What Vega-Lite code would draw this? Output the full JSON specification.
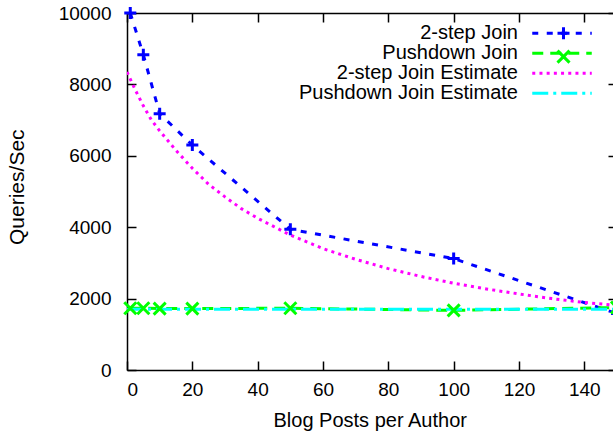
{
  "$schema": "https://vega.github.io/schema/vega-lite/v6.json",
  "width": 490,
  "height": 357,
  "autosize": {"type": "none"},
  "padding": {"left": 127, "top": 13, "right": 0, "bottom": 66},
  "background": "white",
  "config": {
    "view": {"stroke": null},
    "font": "Liberation Sans",
    "axis": {
      "domainColor": "black", "domainWidth": 1.5,
      "tickColor": "black", "tickWidth": 1.5,
      "labelFont": "Liberation Sans", "labelFontSize": 19, "labelColor": "black",
      "titleFont": "Liberation Sans", "titleFontSize": 20, "titleFontWeight": "normal", "titleColor": "black",
      "grid": false
    }
  },
  "datasets": {
    "lines": [
      {"series": "2-step Join", "x": 1, "y": 10000},
      {"series": "2-step Join", "x": 5, "y": 8830},
      {"series": "2-step Join", "x": 10, "y": 7180},
      {"series": "2-step Join", "x": 20, "y": 6300},
      {"series": "2-step Join", "x": 50, "y": 3940},
      {"series": "2-step Join", "x": 100, "y": 3120},
      {"series": "2-step Join", "x": 150, "y": 1580},
      {"series": "Pushdown Join", "x": 1, "y": 1730},
      {"series": "Pushdown Join", "x": 5, "y": 1730},
      {"series": "Pushdown Join", "x": 10, "y": 1720},
      {"series": "Pushdown Join", "x": 20, "y": 1720},
      {"series": "Pushdown Join", "x": 50, "y": 1730},
      {"series": "Pushdown Join", "x": 100, "y": 1670},
      {"series": "Pushdown Join", "x": 150, "y": 1750},
      {"series": "2-step Join Estimate", "x": 0, "y": 8350},
      {"series": "2-step Join Estimate", "x": 1, "y": 8150},
      {"series": "2-step Join Estimate", "x": 2.5, "y": 7850},
      {"series": "2-step Join Estimate", "x": 5, "y": 7400},
      {"series": "2-step Join Estimate", "x": 7.5, "y": 7000},
      {"series": "2-step Join Estimate", "x": 10, "y": 6700},
      {"series": "2-step Join Estimate", "x": 15, "y": 6150},
      {"series": "2-step Join Estimate", "x": 20, "y": 5650},
      {"series": "2-step Join Estimate", "x": 25, "y": 5200},
      {"series": "2-step Join Estimate", "x": 30, "y": 4850},
      {"series": "2-step Join Estimate", "x": 35, "y": 4520},
      {"series": "2-step Join Estimate", "x": 40, "y": 4250},
      {"series": "2-step Join Estimate", "x": 50, "y": 3780},
      {"series": "2-step Join Estimate", "x": 60, "y": 3400},
      {"series": "2-step Join Estimate", "x": 70, "y": 3100},
      {"series": "2-step Join Estimate", "x": 80, "y": 2840},
      {"series": "2-step Join Estimate", "x": 90, "y": 2620},
      {"series": "2-step Join Estimate", "x": 100, "y": 2430},
      {"series": "2-step Join Estimate", "x": 110, "y": 2270},
      {"series": "2-step Join Estimate", "x": 120, "y": 2130},
      {"series": "2-step Join Estimate", "x": 130, "y": 2000},
      {"series": "2-step Join Estimate", "x": 140, "y": 1890},
      {"series": "2-step Join Estimate", "x": 150, "y": 1810},
      {"series": "Pushdown Join Estimate", "x": 0, "y": 1700},
      {"series": "Pushdown Join Estimate", "x": 150, "y": 1700}
    ],
    "points": [
      {"series": "2-step Join", "x": 1, "y": 10000},
      {"series": "2-step Join", "x": 5, "y": 8830},
      {"series": "2-step Join", "x": 10, "y": 7180},
      {"series": "2-step Join", "x": 20, "y": 6300},
      {"series": "2-step Join", "x": 50, "y": 3940},
      {"series": "2-step Join", "x": 100, "y": 3120},
      {"series": "2-step Join", "x": 150, "y": 1580},
      {"series": "Pushdown Join", "x": 1, "y": 1730},
      {"series": "Pushdown Join", "x": 5, "y": 1730},
      {"series": "Pushdown Join", "x": 10, "y": 1720},
      {"series": "Pushdown Join", "x": 20, "y": 1720},
      {"series": "Pushdown Join", "x": 50, "y": 1730},
      {"series": "Pushdown Join", "x": 100, "y": 1670},
      {"series": "Pushdown Join", "x": 150, "y": 1750}
    ]
  },
  "resolve": {"axis": {"x": "independent", "y": "independent"}},
  "layer": [
    {
      "data": {"name": "lines"},
      "mark": {"type": "line", "strokeWidth": 3, "strokeCap": "butt", "clip": true},
      "encoding": {
        "x": {"field": "x", "type": "quantitative",
          "scale": {"domain": [0, 150], "nice": false, "zero": false},
          "axis": {"orient": "bottom", "values": [0, 20, 40, 60, 80, 100, 120, 140], "tickSize": -9, "labelPadding": 19,
            "title": "Blog Posts per Author", "titleX": 242.7, "titleY": 56, "titleBaseline": "alphabetic", "titleAlign": "center"}},
        "y": {"field": "y", "type": "quantitative",
          "scale": {"domain": [0, 10000], "nice": false},
          "axis": {"orient": "left", "values": [0, 2000, 4000, 6000, 8000, 10000], "format": "d", "tickSize": -9, "labelPadding": 25,
            "title": "Queries/Sec", "titleFontSize": 21, "titleX": -110, "titleY": 173.7, "titleAngle": -90, "titleBaseline": "middle", "titleAlign": "center"}},
        "color": {"field": "series", "type": "nominal",
          "scale": {"domain": ["2-step Join", "Pushdown Join", "2-step Join Estimate", "Pushdown Join Estimate"],
                    "range": ["#0000ff", "#00ff00", "#ff00ff", "#00ffff"]},
          "legend": {"title": null, "orient": "none", "legendX": 425, "legendY": 10.3, "symbolType": "M-3.5,0H3.5", "symbolSize": 289,
            "symbolStrokeWidth": 3, "labelAlign": "right", "labelOffset": -54, "labelFontSize": 20, "labelFont": "Liberation Sans",
            "labelColor": "black", "labelLimit": 400, "rowPadding": -0.7, "padding": 0}},
        "strokeDash": {"field": "series", "type": "nominal",
          "scale": {"domain": ["2-step Join", "Pushdown Join", "2-step Join Estimate", "Pushdown Join Estimate"],
                    "range": [[6, 8.5], [11, 7], [3, 4.2], [16, 5, 3, 5]]},
          "legend": {"title": null, "orient": "none", "legendX": 425, "legendY": 10.3, "symbolType": "M-3.5,0H3.5", "symbolSize": 289,
            "symbolStrokeWidth": 3, "labelAlign": "right", "labelOffset": -54, "labelFontSize": 20, "labelFont": "Liberation Sans",
            "labelColor": "black", "labelLimit": 400, "rowPadding": -0.7, "padding": 0}}
      }
    },
    {
      "data": {"name": "points"},
      "mark": {"type": "point", "filled": false, "strokeWidth": 3, "size": 144, "opacity": 1},
      "encoding": {
        "x": {"field": "x", "type": "quantitative", "axis": null},
        "y": {"field": "y", "type": "quantitative", "axis": null},
        "color": {"field": "series", "type": "nominal", "legend": null},
        "shape": {"field": "series", "type": "nominal",
          "scale": {"domain": ["2-step Join", "Pushdown Join"], "range": ["M-1,0H1M0,-1V1", "M-1,-1L1,1M-1,1L1,-1"]},
          "legend": {"title": null, "orient": "none", "legendX": 426.5, "legendY": 10.3, "symbolSize": 144, "symbolStrokeWidth": 3,
            "labelFontSize": 20, "labelOpacity": 0, "labelLimit": 5, "rowPadding": -0.7, "padding": 0, "symbolFillColor": "transparent",
            "symbolStrokeColor": {"expr": "scale('color', datum.value)"}, "symbolOpacity": 1}}
      }
    },
    {
      "data": {"name": "points"},
      "mark": {"type": "point", "opacity": 0},
      "encoding": {
        "x": {"field": "x", "type": "quantitative",
          "axis": {"orient": "top", "labels": false, "tickSize": -9, "values": [0, 20, 40, 60, 80, 100, 120, 140], "title": null}},
        "y": {"field": "y", "type": "quantitative",
          "axis": {"orient": "right", "labels": false, "tickSize": -9, "values": [0, 2000, 4000, 6000, 8000, 10000], "title": null}}
      }
    }
  ]
}
